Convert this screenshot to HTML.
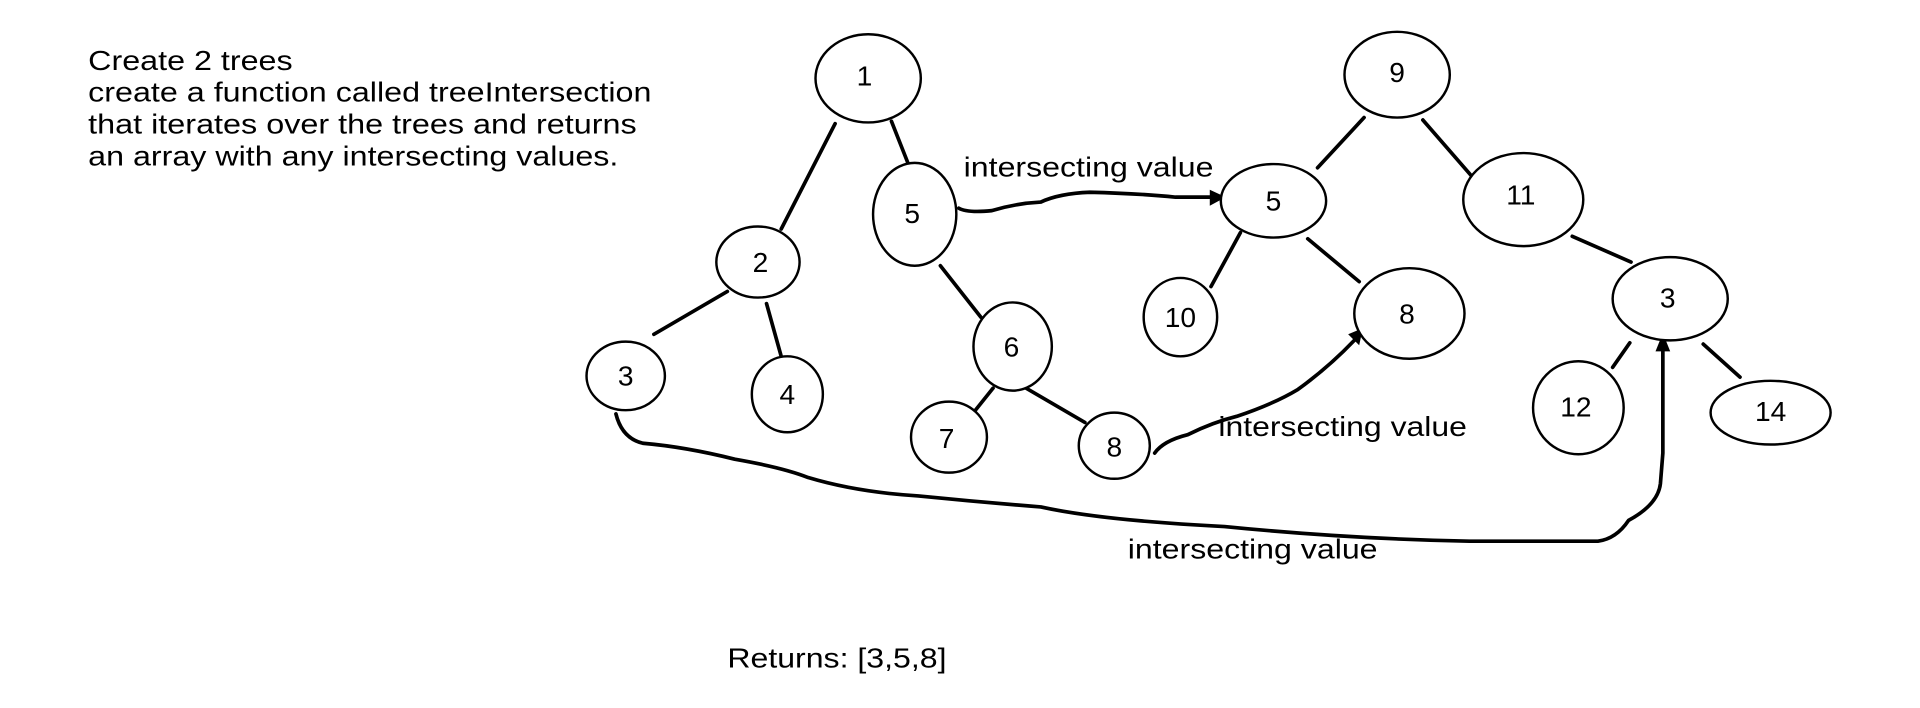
<!DOCTYPE html>
<html><head><meta charset="utf-8"><style>html,body{margin:0;padding:0;background:#fff}svg{display:block}</style></head>
<body>
<svg width="1920" height="708" viewBox="0 0 1568 578.2" xmlns="http://www.w3.org/2000/svg" font-family="Liberation Sans, Arial, sans-serif">
<g fill="#000" font-size="23" lengthAdjust="spacingAndGlyphs">
<text x="72" y="57" textLength="167" lengthAdjust="spacingAndGlyphs">Create 2 trees</text>
<text x="72" y="83" textLength="460" lengthAdjust="spacingAndGlyphs">create a function called treeIntersection</text>
<text x="72" y="109" textLength="448" lengthAdjust="spacingAndGlyphs">that iterates over the trees and returns</text>
<text x="72" y="135" textLength="433" lengthAdjust="spacingAndGlyphs">an array with any intersecting values.</text>
<text x="594" y="545" textLength="179" lengthAdjust="spacingAndGlyphs">Returns: [3,5,8]</text>
<text x="787" y="144" textLength="204" lengthAdjust="spacingAndGlyphs">intersecting value</text>
<text x="995" y="356" textLength="203" lengthAdjust="spacingAndGlyphs">intersecting value</text>
<text x="921" y="456" textLength="204" lengthAdjust="spacingAndGlyphs">intersecting value</text>
</g>
<g stroke="#000" stroke-width="3" fill="none" stroke-linecap="round">
<line x1="682" y1="101" x2="638" y2="187"/>
<line x1="728" y1="99" x2="743" y2="137"/>
<line x1="594" y1="238" x2="534" y2="273"/>
<line x1="626" y1="248" x2="638" y2="291"/>
<line x1="768" y1="217" x2="801" y2="259"/>
<line x1="811" y1="317" x2="795" y2="337"/>
<line x1="838" y1="317" x2="886" y2="345"/>
<line x1="1114" y1="96" x2="1076" y2="137"/>
<line x1="1162" y1="98" x2="1202" y2="144"/>
<line x1="1013" y1="190" x2="989" y2="234"/>
<line x1="1068" y1="195" x2="1110" y2="230"/>
<line x1="1284" y1="193" x2="1332" y2="214"/>
<line x1="1331" y1="280" x2="1317" y2="300"/>
<line x1="1391" y1="281" x2="1421" y2="308"/>
<path d="M783 170 Q790 174 810 172 Q830 166 850 165 Q865 158 890 157 Q930 158 960 161 L990 161"/>
<path d="M943 370 Q950 360 970 355 Q990 345 1010 340 Q1040 330 1060 318 Q1085 300 1106 278"/>
<path d="M503 338 Q508 358 525 362 Q560 365 600 375 Q640 382 660 390 Q700 402 750 405 Q800 410 850 414 Q900 425 1000 430 Q1100 440 1200 442 L1305 442 Q1320 440 1330 425 Q1354 412 1356 395 L1358 370 L1358 285"/>
</g>
<g fill="#000">
<polygon points="1001,161 988,155 988,168"/>
<polygon points="1113,268 1101,273 1110,282"/>
<polygon points="1358,272 1352,287 1364,287"/>
</g>
<g stroke="#000" stroke-width="2" fill="#fff">
<ellipse cx="709" cy="64" rx="43" ry="36"/>
<ellipse cx="619" cy="214" rx="34" ry="29"/>
<ellipse cx="511" cy="307" rx="32" ry="28"/>
<ellipse cx="643" cy="322" rx="29" ry="31"/>
<ellipse cx="747" cy="175" rx="34" ry="42"/>
<ellipse cx="827" cy="283" rx="32" ry="36"/>
<ellipse cx="775" cy="357" rx="31" ry="29"/>
<ellipse cx="910" cy="364" rx="29" ry="27"/>
<ellipse cx="1141" cy="61" rx="43" ry="35"/>
<ellipse cx="1040" cy="164" rx="43" ry="30"/>
<ellipse cx="964" cy="259" rx="30" ry="32"/>
<ellipse cx="1151" cy="256" rx="45" ry="37"/>
<ellipse cx="1244" cy="163" rx="49" ry="38"/>
<ellipse cx="1364" cy="244" rx="47" ry="34"/>
<ellipse cx="1289" cy="333" rx="37" ry="38"/>
<ellipse cx="1446" cy="337" rx="49" ry="26"/>
</g>
<g fill="#000" font-size="23" text-anchor="middle">
<text x="706" y="70">1</text>
<text x="621" y="222">2</text>
<text x="511" y="315">3</text>
<text x="643" y="330">4</text>
<text x="745" y="182">5</text>
<text x="826" y="291">6</text>
<text x="773" y="366">7</text>
<text x="910" y="373">8</text>
<text x="1141" y="67">9</text>
<text x="1040" y="172">5</text>
<text x="964" y="267">10</text>
<text x="1149" y="264">8</text>
<text x="1242" y="167">11</text>
<text x="1362" y="251">3</text>
<text x="1287" y="340">12</text>
<text x="1446" y="344">14</text>
</g>
</svg>
</body></html>
